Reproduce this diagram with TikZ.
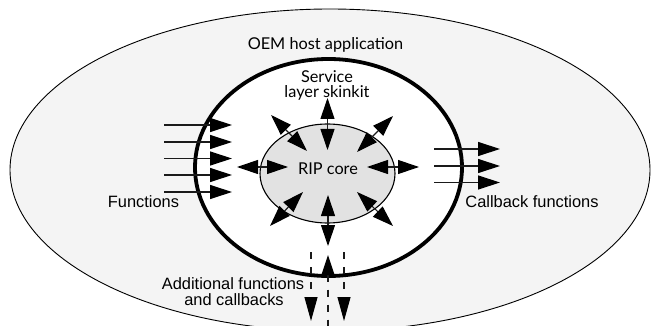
\documentclass[tikz,border=0pt]{standalone}
\usepackage{fontspec}
\setmainfont{Liberation Sans}
\newfontfamily\gillfont{Lato}
\usetikzlibrary{arrows.meta}
\definecolor{hostfill}{HTML}{F4F4F4}
\definecolor{corefill}{HTML}{E2E2E2}
\definecolor{arrline}{HTML}{1A1A1A}
\tikzset{
  gilltext/.style={inner sep=0pt, anchor=base, font=\gillfont\fontsize{16.3pt}{18pt}\selectfont},
  ariatext/.style={inner sep=0pt, anchor=base, font=\fontsize{16.4pt}{18pt}\selectfont},
  flowarrow/.style={draw=arrline, line width=1.2pt, -{Triangle[length=22pt,width=14pt,color=black]}},
  corearrow/.style={draw=arrline, line width=1.1pt, {Triangle[length=21pt,width=14pt,color=black]}-{Triangle[length=21pt,width=14pt,color=black]}},
  dasharrow/.style={draw=arrline, line width=1.1pt, dash pattern=on 7pt off 8pt},
}
\begin{document}
\begin{tikzpicture}[x=1pt,y=-1pt]
\useasboundingbox (0,0) rectangle (656,326);
% host ellipse
\draw[fill=hostfill, line width=0.9pt] (330,170) ellipse [x radius=320pt, y radius=161pt];
% service layer
\draw[fill=white, line width=3.8pt] (328.5,167.5) ellipse [x radius=133.5pt, y radius=108.5pt];
% core
\draw[fill=corefill, line width=1.1pt] (327.5,173.5) ellipse [x radius=67.5pt, y radius=49.5pt];

% texts
\node[gilltext] (oem) at (325.5,50) {OEM host application};
\node[gilltext] (svc1) at (327,83) {Service};
\node[gilltext] (svc2) at (327,98) {layer skinkit};
\node[gilltext] (rip) at (328,175) {RIP core};
\node[ariatext] (fun) at (143.5,207) {Functions};
\node[ariatext] (cbf) at (532,207) {Callback functions};
\node[ariatext] (add1) at (233,289) {Additional functions};
\node[ariatext] (add2) at (234,305) {and callbacks};

% function arrows
\foreach \i/\y in {1/125,2/142,3/158.5,4/175,5/192}{
  \coordinate (fs\i) at (164,\y);
  \coordinate (fe\i) at (232,\y);
  \draw[flowarrow] (fs\i) -- (fe\i);
}
% callback arrows
\foreach \i/\y in {1/149,2/166,3/182.5}{
  \coordinate (cs\i) at (434,\y);
  \coordinate (ce\i) at (500,\y);
  \draw[flowarrow] (cs\i) -- (ce\i);
}
% core arrows
\coordinate (tA) at (327.5,98);  \coordinate (tB) at (327.5,150);
\coordinate (bA) at (328,195);   \coordinate (bB) at (328,246);
\coordinate (lA) at (237,167);   \coordinate (lB) at (288,167);
\coordinate (rA) at (367,167);   \coordinate (rB) at (419,167);
\coordinate (ulA) at (271,115);  \coordinate (ulB) at (307,151);
\coordinate (urA) at (393,116);  \coordinate (urB) at (357,152);
\coordinate (llA) at (270,226);  \coordinate (llB) at (303,192);
\coordinate (lrA) at (393,226);  \coordinate (lrB) at (357,192);
\foreach \a in {t,b,l,r,ul,ur,ll,lr}{
  \draw[corearrow] (\a A) -- (\a B);
}
% additional functions and callbacks
\coordinate (d1s) at (311,252); \coordinate (d1e) at (311,321);
\coordinate (d2s) at (328,255); \coordinate (d2e) at (328,330);
\coordinate (d3s) at (344,252); \coordinate (d3e) at (344,321);
\draw[dasharrow, -{Triangle[length=24pt,width=13pt,color=black]}] (d1s) -- (d1e);
\draw[dasharrow, -{Triangle[length=24pt,width=13pt,color=black]}] (d3s) -- (d3e);
\draw[dasharrow, {Triangle[length=20pt,width=13pt,color=black]}-] (d2s) -- (d2e);
\end{tikzpicture}
\end{document}
